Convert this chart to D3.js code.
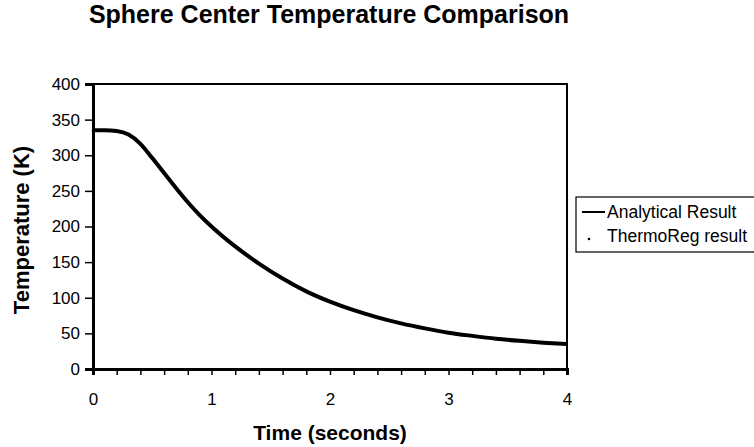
<!DOCTYPE html>
<html>
<head>
<meta charset="utf-8">
<script src="https://cdn.jsdelivr.net/npm/d3@7"></script>
<style>
  body { margin: 0; background: #fff; }
  svg text { font-family: "Liberation Sans", Arial, sans-serif; fill: #000; }
</style>
</head>
<body>
<div id="chart"></div>
<script>
// values
var times = [0, 0.1, 0.2, 0.3, 0.4, 0.5, 0.6, 0.7, 0.8, 0.9, 1.0, 1.2, 1.4, 1.6, 1.8, 2.0, 2.2, 2.4, 2.6, 2.8, 3.0, 3.2, 3.4, 3.6, 3.8, 4.0];
var analytical = [335, 335, 334, 329, 316, 296, 275, 254, 234, 216, 200, 172, 148, 127, 109, 94.5, 82.5, 72.5, 64, 57, 51, 46.5, 42.5, 39.5, 37, 35];
var thermoTimes = [0, 0.4, 0.8, 1.2, 1.6, 2.0, 2.4, 2.8, 3.2, 3.6, 4.0];
var thermoReg = [335, 316, 234, 172, 127, 94.5, 72.5, 57, 46.5, 39.5, 35];
var xTickLabels = [0, 1, 2, 3, 4];
var yTicks = [0, 50, 100, 150, 200, 250, 300, 350, 400];
var seriesNames = ["Analytical Result", "ThermoReg result"];

var width = 754, height = 447;
var margin = { top: 84, right: 187, bottom: 78, left: 93 };

var svg = d3.select("#chart").append("svg")
  .attr("width", width)
  .attr("height", height);

var x = d3.scaleLinear().domain([0, 4]).range([margin.left, width - margin.right]);
var y = d3.scaleLinear().domain([0, 400]).range([height - margin.bottom, margin.top]);

// title
svg.append("text")
  .attr("x", 329)
  .attr("y", 23)
  .attr("text-anchor", "middle")
  .style("font-size", "25px")
  .style("font-weight", "bold")
  .text("Sphere Center Temperature Comparison");

// frame (top and right)
svg.append("rect")
  .attr("x", margin.left)
  .attr("y", margin.top)
  .attr("width", width - margin.right - margin.left)
  .attr("height", height - margin.bottom - margin.top)
  .attr("fill", "none")
  .attr("stroke", "#000")
  .attr("stroke-width", 2);

// x axis: small ticks every 0.2, labels on whole seconds
var xAxis = d3.axisBottom(x)
  .tickValues(d3.range(0, 4.01, 0.2))
  .tickSize(6)
  .tickFormat(function (d) {
    var r = Math.round(d * 10) / 10;
    return xTickLabels.indexOf(r) >= 0 ? d3.format("d")(r) : "";
  });

var gx = svg.append("g")
  .attr("transform", "translate(0," + (height - margin.bottom) + ")")
  .call(xAxis);
gx.select(".domain").attr("stroke-width", 3);
gx.selectAll(".tick line").attr("stroke-width", 1.5);
gx.selectAll(".tick text").attr("y", 36).attr("dy", 0).style("font-size", "17px");

var yAxis = d3.axisLeft(y).tickValues(yTicks).tickSize(8).tickPadding(5);
var gy = svg.append("g")
  .attr("transform", "translate(" + margin.left + ",0)")
  .call(yAxis);
gy.select(".domain").attr("stroke-width", 3);
gy.selectAll(".tick line").attr("stroke-width", 1.5);
gy.selectAll(".tick text").style("font-size", "17px");

// axis titles
svg.append("text")
  .attr("x", (margin.left + width - margin.right) / 2)
  .attr("y", 440)
  .attr("text-anchor", "middle")
  .style("font-size", "21px")
  .style("font-weight", "bold")
  .text("Time (seconds)");

svg.append("text")
  .attr("transform", "translate(29,230) rotate(-90)")
  .attr("text-anchor", "middle")
  .style("font-size", "22px")
  .style("font-weight", "bold")
  .text("Temperature (K)");

// analytical curve
var line = d3.line()
  .x(function (d, i) { return x(times[i]); })
  .y(function (d) { return y(d); })
  .curve(d3.curveMonotoneX);

svg.append("path")
  .datum(analytical)
  .attr("d", line)
  .attr("fill", "none")
  .attr("stroke", "#000")
  .attr("stroke-width", 4)
  .attr("stroke-linejoin", "round");

// thermoreg dots, hidden under the curve like in the scan
svg.append("g").selectAll("circle")
  .data(thermoReg)
  .enter().append("circle")
  .attr("cx", function (d, i) { return x(thermoTimes[i]); })
  .attr("cy", function (d) { return y(d); })
  .attr("r", 1.2)
  .attr("fill", "#000");

// legend
var lg = svg.append("g").attr("transform", "translate(576,197)");
lg.append("rect")
  .attr("width", 190)
  .attr("height", 55)
  .attr("fill", "#fff")
  .attr("stroke", "#000")
  .attr("stroke-width", 1.2);

lg.append("line")
  .attr("x1", 6).attr("x2", 29)
  .attr("y1", 15).attr("y2", 15)
  .attr("stroke", "#000")
  .attr("stroke-width", 2);
lg.append("circle")
  .attr("cx", 13).attr("cy", 42)
  .attr("r", 1.3)
  .attr("fill", "#000");

lg.selectAll("text.lbl")
  .data(seriesNames)
  .enter().append("text")
  .attr("class", "lbl")
  .attr("x", 31)
  .attr("y", function (d, i) { return 21 + i * 24; })
  .style("font-size", "17.5px")
  .text(function (d) { return d; });
</script>
</body>
</html>
